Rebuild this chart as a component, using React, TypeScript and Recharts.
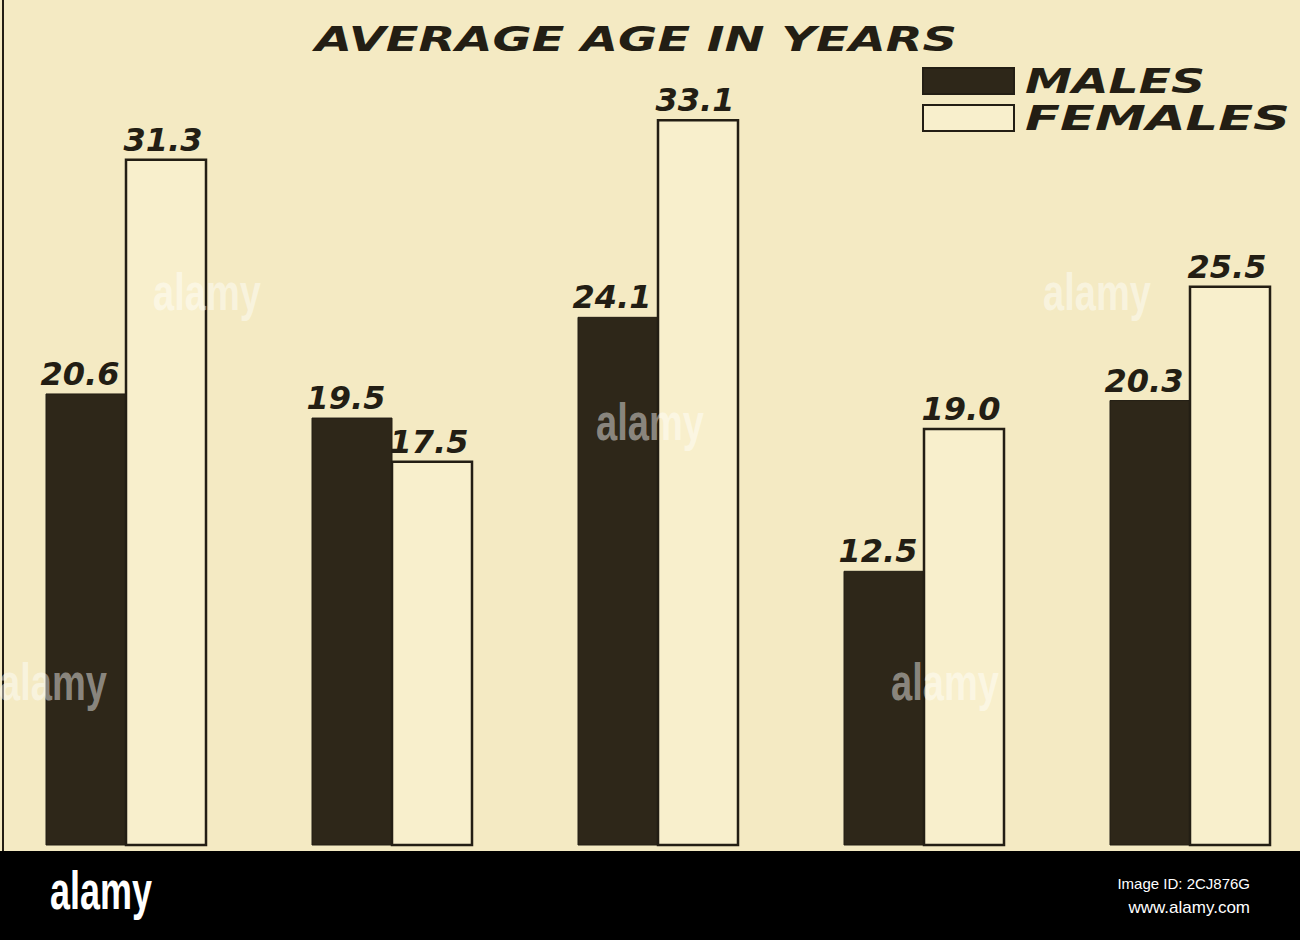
import { BarChart, Bar, XAxis, YAxis, LabelList, Legend } from 'recharts';

// values
const groups = ['I', 'II', 'III', 'IV', 'V'];
const males = [20.6, 19.5, 24.1, 12.5, 20.3];
const females = [31.3, 17.5, 33.1, 19.0, 25.5];
const seriesNames = ['MALES', 'FEMALES'];
const title = 'AVERAGE AGE IN YEARS';

const data = groups.map((g, i) => ({ group: g, males: males[i], females: females[i] }));

const paper = '#f4eac3';
const ink = '#231e14';
const maleFill = '#2e2719';
const femaleFill = '#f8efcc';

const letterFont = {
  fontFamily: '"DejaVu Sans", sans-serif',
  fontWeight: 700,
  fontStyle: 'italic' as const,
};

const valueLabel = (dx: number) => (props: any) => {
  const { x, y, width, value } = props;
  return (
    <text
      x={Number(x) + Number(width) / 2 + dx}
      y={Number(y) - 9}
      textAnchor="middle"
      fill={ink}
      fontSize={32}
      style={letterFont}
    >
      {Number(value).toFixed(1)}
    </text>
  );
};

const legendWidths = [180, 265];

const renderLegend = (props: any) => {
  const items = [...(props.payload || [])].sort(
    (a: any, b: any) => seriesNames.indexOf(a.value) - seriesNames.indexOf(b.value)
  );
  return (
    <div>
      {items.map((item: any) => {
        const i = seriesNames.indexOf(item.value);
        return (
          <div key={item.value} style={{ display: 'flex', alignItems: 'center', height: 37 }}>
            <div
              style={{
                width: 93,
                height: 28,
                boxSizing: 'border-box',
                background: i === 0 ? maleFill : femaleFill,
                border: `2px solid ${ink}`,
              }}
            />
            <svg width={270} height={37} style={{ marginLeft: 10, overflow: 'visible' }}>
              <text
                x={0}
                y={31}
                fill={ink}
                fontSize={34}
                textLength={legendWidths[i]}
                lengthAdjust="spacingAndGlyphs"
                style={letterFont}
              >
                {item.value}
              </text>
            </svg>
          </div>
        );
      })}
    </div>
  );
};

const watermarks = [
  [207, 310],
  [650, 440],
  [1097, 310],
  [53, 700],
  [945, 700],
];

export default function App() {
  return (
    <div
      style={{
        position: 'absolute',
        left: 0,
        top: 0,
        width: 1300,
        height: 940,
        overflow: 'hidden',
        background: paper,
      }}
    >
      <div style={{ position: 'absolute', left: -7, top: 0 }}>
        <BarChart
          width={1330}
          height={851}
          data={data}
          margin={{ top: 13, right: 0, bottom: 6, left: 0 }}
          barGap={0}
          barSize={80}
        >
          <XAxis dataKey="group" hide />
          <YAxis hide domain={[0, 38]} />
          <Legend
            content={renderLegend}
            wrapperStyle={{
              position: 'absolute',
              top: 62,
              left: 929,
              width: 375,
              height: 0,
              overflow: 'visible',
            }}
          />
          <Bar
            dataKey="males"
            name={seriesNames[0]}
            fill={maleFill}
            stroke={ink}
            strokeWidth={1}
            isAnimationActive={false}
          >
            <LabelList dataKey="males" content={valueLabel(-6)} />
          </Bar>
          <Bar
            dataKey="females"
            name={seriesNames[1]}
            fill={femaleFill}
            stroke={ink}
            strokeWidth={2.5}
            isAnimationActive={false}
          >
            <LabelList dataKey="females" content={valueLabel(-3)} />
          </Bar>
        </BarChart>
      </div>

      <svg
        width={1300}
        height={940}
        style={{ position: 'absolute', left: 0, top: 0, pointerEvents: 'none' }}
      >
        <line x1={3} y1={0} x2={3} y2={851} stroke={ink} strokeWidth={2} />
        <text
          x={315}
          y={51}
          fill={ink}
          fontSize={34}
          textLength={642}
          lengthAdjust="spacingAndGlyphs"
          style={letterFont}
        >
          {title}
        </text>
        {watermarks.map(([cx, by], i) => (
          <text
            key={i}
            x={cx}
            y={by}
            textAnchor="middle"
            fill="#ffffff"
            fillOpacity={0.45}
            fontSize={52}
            fontWeight={700}
            fontFamily='"Liberation Sans Narrow", "Liberation Sans", sans-serif'
            textLength={108}
            lengthAdjust="spacingAndGlyphs"
          >
            alamy
          </text>
        ))}
        <rect x={0} y={851} width={1300} height={89} fill="#000000" />
        <text
          x={50}
          y={909}
          fill="#ffffff"
          fontSize={54}
          fontWeight={700}
          fontFamily='"Liberation Sans Narrow", "Liberation Sans", sans-serif'
          textLength={102}
          lengthAdjust="spacingAndGlyphs"
        >
          alamy
        </text>
        <text
          x={1250}
          y={889}
          textAnchor="end"
          fill="#ffffff"
          fontSize={15}
          fontFamily='"Liberation Sans Narrow", "Liberation Sans", sans-serif'
        >
          Image ID: 2CJ876G
        </text>
        <text
          x={1250}
          y={913}
          textAnchor="end"
          fill="#ffffff"
          fontSize={17}
          fontFamily='"Liberation Sans Narrow", "Liberation Sans", sans-serif'
        >
          www.alamy.com
        </text>
      </svg>
    </div>
  );
}
